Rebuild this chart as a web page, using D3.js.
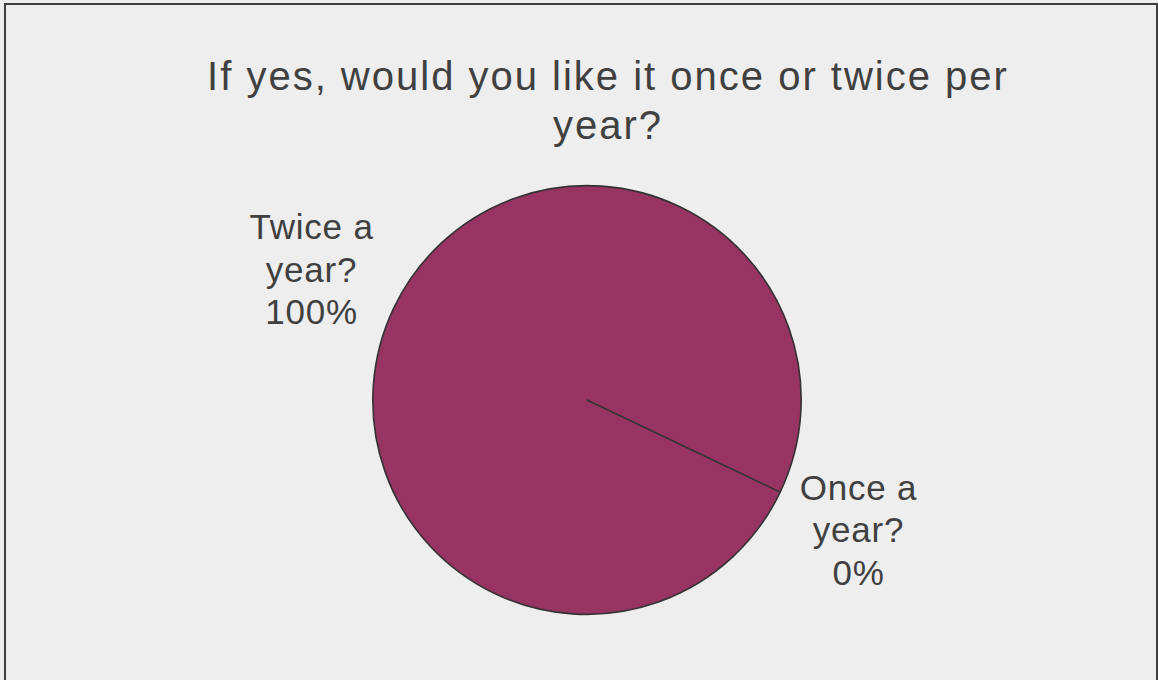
<!DOCTYPE html>
<html lang="en">
<head>
<meta charset="utf-8">
<title>Once or twice per year</title>
<script src="https://cdn.jsdelivr.net/npm/d3@7"></script>
<style>
  body { margin: 0; background: #eeeeee; }
  svg text { font-family: "Liberation Sans", Arial, sans-serif; fill: #404040; }
</style>
</head>
<body>
<svg id="chart" width="1158" height="680"></svg>
<script>

// data
var categories = ["Once a year?", "Twice a year?"];
var values = [0, 100];
var titleLines = ["If yes, would you like it once or twice per", "year?"];

var svg = d3.select("#chart"),
    width = +svg.attr("width"),
    height = +svg.attr("height");

// frame of the chart area
svg.append("rect")
    .attr("x", 5).attr("y", 4)
    .attr("width", 1152).attr("height", 720)
    .attr("fill", "#eeeeee")
    .attr("stroke", "#404040")
    .attr("stroke-width", 2);

// title
svg.append("text")
    .attr("text-anchor", "middle")
    .style("font-size", "40px")
    .style("letter-spacing", "2px")
    .selectAll("tspan")
    .data(titleLines)
    .enter().append("tspan")
      .attr("x", 608)
      .attr("y", function(d, i) { return 90 + i * 49; })
      .text(function(d) { return d; });

var cx = 587, cy = 400, radius = 214;
var startAngle = 115.5 * Math.PI / 180;

var pie = d3.pie()
    .sort(null)
    .value(function(d) { return d; })
    .startAngle(startAngle)
    .endAngle(startAngle + 2 * Math.PI);

var arc = d3.arc().innerRadius(0).outerRadius(radius);
var labelArc = d3.arc().innerRadius(303).outerRadius(303);

var arcs = pie(values);
var total = d3.sum(values);

var g = svg.append("g").attr("transform", "translate(" + cx + "," + cy + ")");

// draw the full slice first, the empty one on top so its edge shows
g.selectAll("path")
    .data(arcs.slice().reverse())
    .enter().append("path")
      .attr("d", arc)
      .attr("fill", "#983462")
      .attr("stroke", "#333333")
      .attr("stroke-width", 1.6)
      .attr("stroke-linejoin", "round");

// labels: category split on two lines + percentage
var labels = g.selectAll("text.lbl")
    .data(arcs)
    .enter().append("text")
      .attr("class", "lbl")
      .attr("text-anchor", "middle")
      .style("font-size", "35px")
      .style("letter-spacing", "0.8px")
      .attr("transform", function(d) {
        var p = labelArc.centroid(d);
        return "translate(" + (p[0] - 2) + "," + (p[1] + 12) + ")";
      });

labels.each(function(d, i) {
  var name = categories[i];
  var parts = [name.replace(/ year\?$/, ""), "year?", Math.round(d.value / total * 100) + "%"];
  d3.select(this).selectAll("tspan")
    .data(parts)
    .enter().append("tspan")
      .attr("x", 0)
      .attr("y", function(p, j) { return (j - 1) * 42.5; })
      .text(function(p) { return p; });
});

</script>
</body>
</html>
